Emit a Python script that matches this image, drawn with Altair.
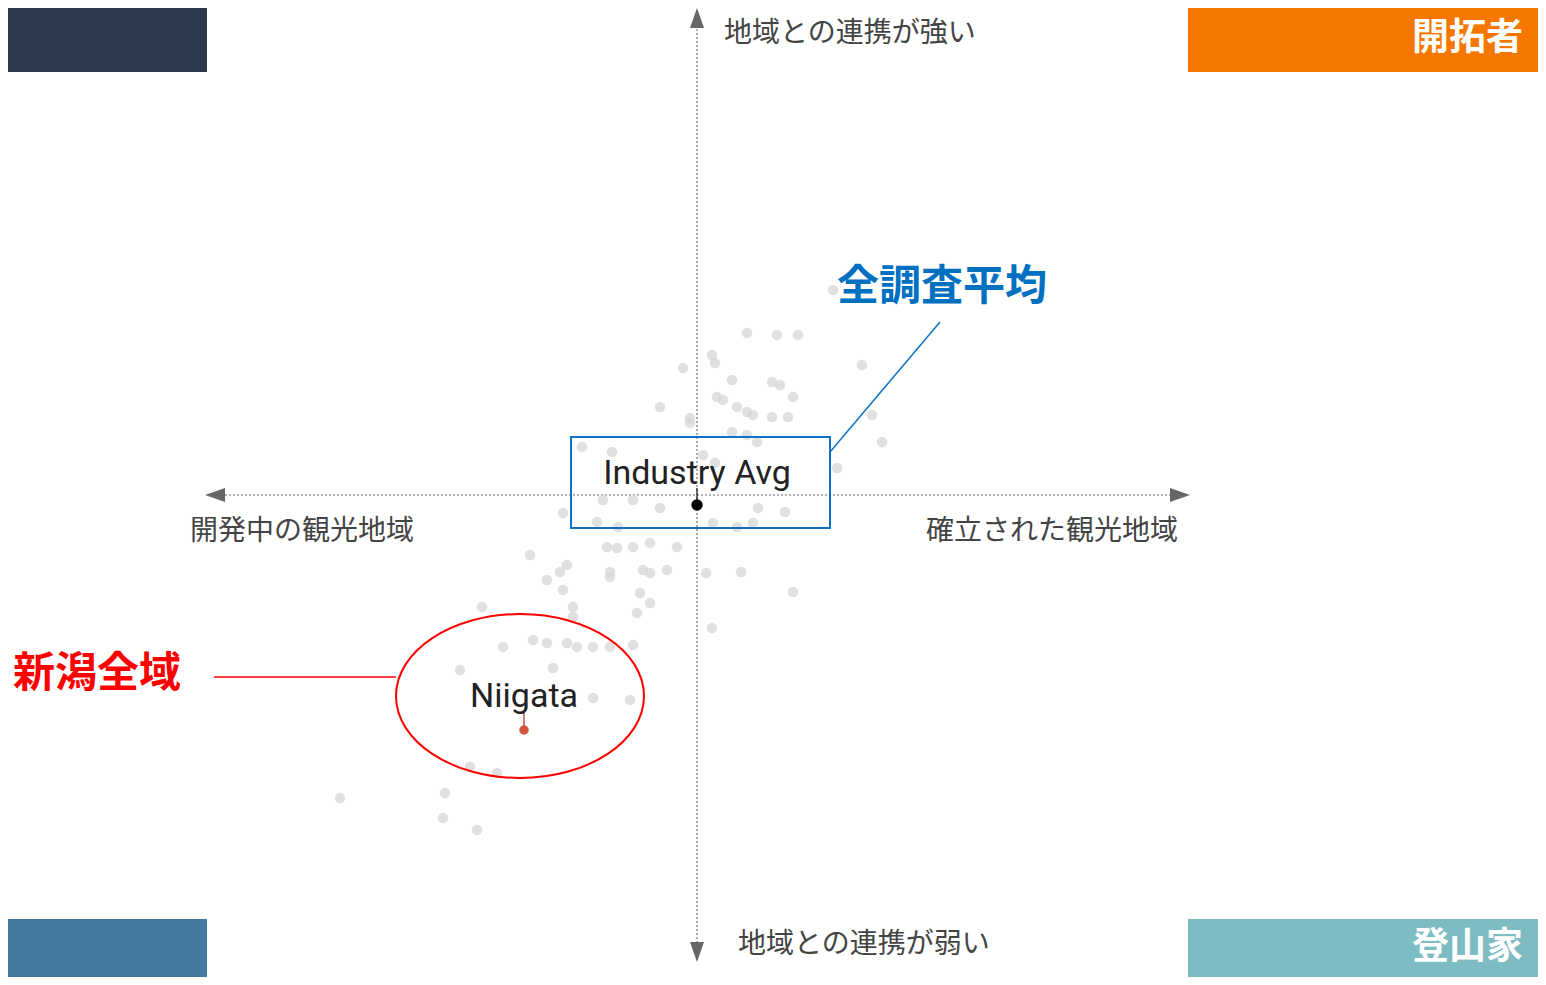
import altair as alt
import pandas as pd

# ---------------- data (score units: x = 観光地域の成熟度, y = 地域との連携) ----------------
gray_x = [10, 16, 20.2, 3, 3.6, -2.8, 7, 15, 16.6, 33, 19.2, -7.4, 4, 5.2, 8, 10, 11.2, 15,
          18.2, 35, -1.4, -1.4, 7, 10, 12, 37, -23, -17, 28, -26.8, -20, -15.8, -7.4, 12.2,
          17.6, 3.2, 8, 11.2, -12.8, -18.8, -18, -16, -12.8, -9.4, -4, -33.4, -26, -27.4, -30,
          -17.4, -17.4, -10.8, -9.4, -6, -26.8, -11.4, -9.4, -12, -43, -24.8, -24.8, -38.8,
          -32.8, -30, -26, -24, -20.8, -17.4, -12.8, -28.8, -47.4, -20.8, -13.4, -45.4, -40,
          -50.4, -71.4, -50.8, -44, 1.8, 8.8, 19.2, 3, 27.2, 1.2, 3.6]
gray_y = [32.4, 32, 32, 28, 26.4, 25.4, 23, 22.6, 22, 26, 19.6, 17.6, 19.6, 19, 17.6, 16.6, 16,
          15.6, 15.6, 16, 15.4, 14.4, 12.6, 12, 10.6, 10.6, 9.6, 8.6, 5.4, -3.6, -5.4, -6.4,
          -2.6, -2.6, -3.4, -5.6, -6.4, -5.6, -1, -1, -10.4, -10.6, -10.4, -9.6, -10.4, -12,
          -14, -15.4, -17, -15.4, -16.4, -15, -15.6, -15, -19, -19.6, -21.6, -23.6, -22.4,
          -22.4, -24.4, -30.4, -29, -29.6, -29.6, -30.4, -30.4, -30.4, -30, -34.6, -35, -40.6,
          -41, -54.4, -55.6, -59.6, -60.6, -64.6, -67, -15.6, -15.4, -19.4, -26.6, 41, 8, 6.4]

avg_label = "Industry Avg"
avg_x, avg_y = 0, -2
niigata_label = "Niigata"
niigata_x, niigata_y = -34.6, -47

axis_texts = ["地域との連携が強い", "地域との連携が弱い", "開発中の観光地域", "確立された観光地域"]
quadrants = ["左上", "開拓者", "左下", "登山家"]
quadrant_colors = ["#2d3a4d", "#f57700", "#44789e", "#7ebcc4"]
callout_avg = "全調査平均"
callout_niigata = "新潟全域"

# ---------------- scales ----------------
xs = alt.Scale(domain=[-137.8, 168.2], nice=False, zero=False)
ys = alt.Scale(domain=[-96.4, 97.4], nice=False, zero=False)


def X(f="x"):
    return alt.X(f, type="quantitative", scale=xs, axis=None)


def Y(f="y"):
    return alt.Y(f, type="quantitative", scale=ys, axis=None)


JP = "Noto Sans CJK JP"

# quadrant boxes
quad_df = pd.DataFrame({
    "q": quadrants,
    "x": [-140, 98.2, -140, 98.2], "x2": [-98, 172, -98, 172],
    "y": [98, 98, -84.8, -84.8], "y2": [84.6, 84.6, -100, -100],
})
quad = alt.Chart(quad_df).mark_rect().encode(
    x=X(), x2="x2", y=Y(), y2="y2",
    color=alt.Color("q:N", scale=alt.Scale(domain=quadrants, range=quadrant_colors), legend=None),
)
quad_text_df = pd.DataFrame({"t": ["開拓者", "登山家"], "x": [165.2, 165.2], "y": [91.2, -90.6]})
quad_text = alt.Chart(quad_text_df).mark_text(
    font=JP, fontSize=37, fontWeight="bold", color="white", align="right", baseline="middle"
).encode(x=X(), y=Y(), text="t:N")

# axis dotted lines
axes_df = pd.DataFrame({"x": [-94.4, 0], "x2": [94.6, 0], "y": [0, 94], "y2": [0, -90]})
axes = alt.Chart(axes_df).mark_rule(color="#9a9a9a", strokeWidth=1.6, strokeDash=[2, 2]).encode(
    x=X(), x2="x2", y=Y(), y2="y2")

dirs = ["left", "right", "up", "down"]
paths = ["M-1,0L1,-0.7L1,0.7Z", "M1,0L-1,-0.7L-1,0.7Z", "M0,-1L0.7,1L-0.7,1Z", "M0,1L0.7,-1L-0.7,-1Z"]
arrow_df = pd.DataFrame({"d": dirs, "x": [-96.4, 96.6, 0, 0], "y": [0, 0, 95.4, -91.4]})
arrows = alt.Chart(arrow_df).mark_point(filled=True, opacity=1, color="#666666", size=400).encode(
    x=X(), y=Y(),
    shape=alt.Shape("d:N", scale=alt.Scale(domain=dirs, range=paths), legend=None))

# axis labels
lab_df = pd.DataFrame({"t": axis_texts[:3], "x": [5.4, 8.2, -101.4], "y": [92.2, -90, -7.4]})
labs = alt.Chart(lab_df).mark_text(font=JP, fontSize=28, color="#444444", align="left",
                                    baseline="middle").encode(x=X(), y=Y(), text="t:N")
lab_r_df = pd.DataFrame({"t": [axis_texts[3]], "x": [96.2], "y": [-7.4]})
lab_r = alt.Chart(lab_r_df).mark_text(font=JP, fontSize=28, color="#444444", align="right",
                                       baseline="middle").encode(x=X(), y=Y(), text="t:N")

# scatter points
pts_df = pd.DataFrame({"x": gray_x, "y": gray_y})
pts = alt.Chart(pts_df).mark_circle(size=110, color="#d6d6d6", opacity=0.75).encode(x=X(), y=Y())

# blue callout box
box_df = pd.DataFrame({"x": [-25.2], "x2": [26.6], "y": [11.6], "y2": [-6.6]})
box = alt.Chart(box_df).mark_rect(fillOpacity=0, stroke="#0b72c6", strokeWidth=2).encode(
    x=X(), x2="x2", y=Y(), y2="y2")
blue_line_df = pd.DataFrame({"x": [26.6], "x2": [48.6], "y": [8.6], "y2": [34.6]})
blue_line = alt.Chart(blue_line_df).mark_rule(color="#0b72c6", strokeWidth=1.5).encode(
    x=X(), x2="x2", y=Y(), y2="y2")
blue_text_df = pd.DataFrame({"t": [callout_avg], "x": [49], "y": [41.6]})
blue_text = alt.Chart(blue_text_df).mark_text(font=JP, fontSize=42, fontWeight="bold",
                                               color="#0070c0", baseline="middle").encode(
    x=X(), y=Y(), text="t:N")

# red callout
ellipse_path = ("M1,0C1,0.365,0.5523,0.661,0,0.661C-0.5523,0.661,-1,0.365,-1,0"
                "C-1,-0.365,-0.5523,-0.661,0,-0.661C0.5523,-0.661,1,-0.365,1,0Z")
ell_df = pd.DataFrame({"x": [-35.4], "y": [-40.2]})
ell = alt.Chart(ell_df).mark_point(shape=ellipse_path, size=61504, filled=False, opacity=1,
                                   color="#ff0000", strokeWidth=2).encode(x=X(), y=Y())
red_line_df = pd.DataFrame({"x": [-96.6], "x2": [-60.2], "y": [-36.4], "y2": [-36.4]})
red_line = alt.Chart(red_line_df).mark_rule(color="#ff0000", strokeWidth=1.3).encode(
    x=X(), x2="x2", y=Y(), y2="y2")
red_text_df = pd.DataFrame({"t": [callout_niigata], "x": [-120], "y": [-35.8]})
red_text = alt.Chart(red_text_df).mark_text(font=JP, fontSize=42, fontWeight="bold",
                                             color="#ff0000", baseline="middle").encode(
    x=X(), y=Y(), text="t:N")

# label ticks
avg_tick_df = pd.DataFrame({"x": [avg_x], "y": [1.4], "y2": [-1]})
avg_tick = alt.Chart(avg_tick_df).mark_rule(strokeWidth=1.3, color="#222222").encode(
    x=X(), y=Y(), y2="y2")
nii_tick_df = pd.DataFrame({"x": [niigata_x], "y": [-43.4], "y2": [-46.2]})
nii_tick = alt.Chart(nii_tick_df).mark_rule(strokeWidth=1.3, color="#b03a2e").encode(
    x=X(), y=Y(), y2="y2")

# highlighted points
avg_df = pd.DataFrame({"x": [avg_x], "y": [avg_y]})
avg_pt = alt.Chart(avg_df).mark_circle(opacity=1, size=130, color="#000000").encode(x=X(), y=Y())
nii_df = pd.DataFrame({"x": [niigata_x], "y": [niigata_y]})
nii_pt = alt.Chart(nii_df).mark_circle(opacity=1, size=90, color="#d4553b").encode(x=X(), y=Y())

hl_lab_df = pd.DataFrame({"t": [avg_label, niigata_label], "x": [avg_x, niigata_x],
                          "y": [4.2, -40.4]})
hl_lab = alt.Chart(hl_lab_df).mark_text(font="Roboto", fontSize=34, color="#222222",
                                         baseline="middle").encode(x=X(), y=Y(), text="t:N")

chart = alt.layer(
    quad, quad_text, axes, arrows, labs, lab_r, pts, box, blue_line, blue_text,
    ell, red_line, red_text, avg_tick, nii_tick, avg_pt, nii_pt, hl_lab
).properties(
    width=1530, height=969, padding=0,
    autosize=alt.AutoSizeParams(type="none"),
).configure_view(strokeWidth=0)

chart.save("out.html", embed_options={"renderer": "svg", "actions": False})
